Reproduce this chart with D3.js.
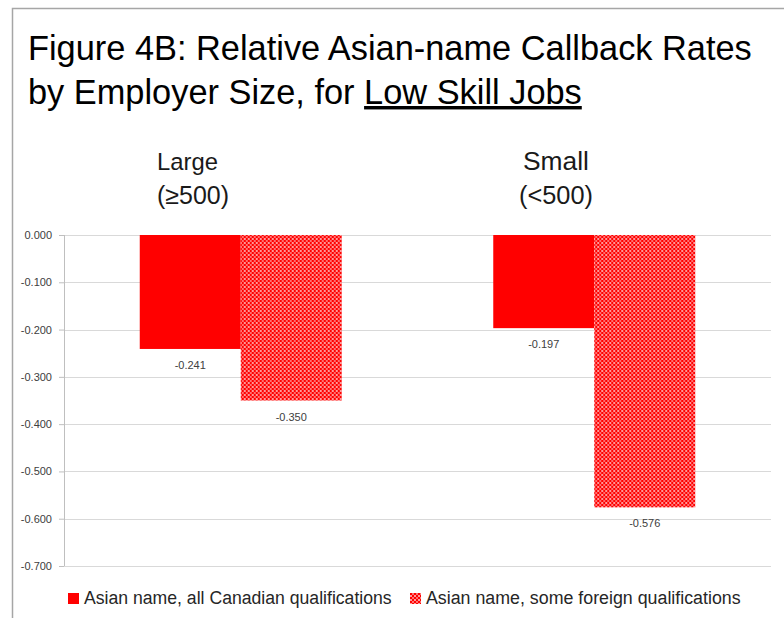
<!DOCTYPE html>
<html>
<head>
<meta charset="utf-8">
<script src="https://cdn.jsdelivr.net/npm/d3@7"></script>
<style>
  body { margin: 0; background: #fff; }
  svg { display: block; font-family: "Liberation Sans", Arial, sans-serif; }
</style>
</head>
<body>
<svg id="chart" width="784" height="618"></svg>
<script>
// data
const categories = ['Large', 'Small']
const categoryLabels = [['Large', '(\u2265500)'], ['Small', '(<500)']]
const seriesNames = ['Asian name, all Canadian qualifications', 'Asian name, some foreign qualifications']
const canadianQual = [-0.241, -0.197]
const foreignQual = [-0.350, -0.576]
const yTicks = [0, -0.1, -0.2, -0.3, -0.4, -0.5, -0.6, -0.7]

const svg = d3.select('#chart')

// plain hyphen minus, like the original
const fmt = d3.formatLocale({ decimal: '.', thousands: ',', grouping: [3], currency: ['', ''], minus: '-' }).format('.3f')

// shrink/grow a text so it takes the given width
function fitWidth(sel, w) {
  const len = sel.node().getComputedTextLength()
  const fs = parseFloat(sel.attr('font-size'))
  sel.attr('font-size', fs * w / len)
}

/**
 * @Frame
 */
svg.append('rect')
  .attr('x', 12.5).attr('y', 8.5)
  .attr('width', 800).attr('height', 700)
  .attr('fill', 'none')
  .attr('stroke', '#a6a6a6')
  .attr('stroke-width', 1.5)

// checker pattern for second series
const defs = svg.append('defs')
const pat = defs.append('pattern')
  .attr('id', 'checker')
  .attr('patternUnits', 'userSpaceOnUse')
  .attr('width', 4).attr('height', 4)
pat.append('rect').attr('width', 4).attr('height', 4).attr('fill', '#fff')
pat.append('rect').attr('x', 0).attr('y', 0).attr('width', 2).attr('height', 2).attr('fill', '#ff0000')
pat.append('rect').attr('x', 2).attr('y', 2).attr('width', 2).attr('height', 2).attr('fill', '#ff0000')
pat.append('rect').attr('x', 2).attr('y', 0).attr('width', 2).attr('height', 2).attr('fill', '#ff7070')
pat.append('rect').attr('x', 0).attr('y', 2).attr('width', 2).attr('height', 2).attr('fill', '#ff9a9a')

const fills = ['#ff0000', 'url(#checker)']

/**
 * @Title
 */
const t1 = svg.append('text')
  .attr('x', 28).attr('y', 60)
  .attr('font-size', 32).attr('fill', '#000')
  .text('Figure 4B: Relative Asian-name Callback Rates')
fitWidth(t1, 724)

const t2 = svg.append('text')
  .attr('x', 28).attr('y', 104)
  .attr('font-size', 32).attr('fill', '#000')
t2.append('tspan').text('by Employer Size, for ')
t2.append('tspan').attr('text-decoration', 'underline').text('Low Skill Jobs')
fitWidth(t2, 554)

/**
 * @Scales
 */
const plotLeft = 64, plotRight = 771
const y = d3.scaleLinear().domain([-0.7, 0]).range([566, 235])
const x0 = d3.scaleBand().domain(categories).range([plotLeft, plotRight])
  .paddingInner(0.4286).paddingOuter(0.2143)
const x1 = d3.scaleBand().domain([0, 1]).range([0, x0.bandwidth()])

/**
 * @Grid + axis
 */
const yAxis = svg.append('g')
  .attr('transform', `translate(${plotLeft},0)`)
  .call(d3.axisLeft(y).tickValues(yTicks).tickFormat(fmt)
    .tickSize(5).tickPadding(7))
yAxis.select('.domain').remove()
yAxis.selectAll('.tick line').attr('stroke', '#bfbfbf')
yAxis.selectAll('.tick text')
  .attr('fill', '#404040')
  .attr('font-size', 11)
  .attr('font-family', '"Liberation Sans", Arial, sans-serif')

svg.append('g')
  .selectAll('line')
  .data(yTicks)
  .enter()
  .append('line')
  .attr('x1', plotLeft).attr('x2', plotRight)
  .attr('y1', d => Math.round(y(d)) + 0.5)
  .attr('y2', d => Math.round(y(d)) + 0.5)
  .attr('stroke', '#d9d9d9')

svg.append('line')
  .attr('x1', plotLeft + 0.5).attr('x2', plotLeft + 0.5)
  .attr('y1', y(0)).attr('y2', y(-0.7))
  .attr('stroke', '#bfbfbf')

/**
 * @Bars
 */
const rows = categories.map((c, i) => ({ cat: c, vals: [canadianQual[i], foreignQual[i]] }))

const groups = svg.append('g')
  .selectAll('g')
  .data(rows)
  .enter()
  .append('g')
  .attr('transform', d => `translate(${x0(d.cat)},0)`)

groups.selectAll('rect')
  .data(d => d.vals.map((v, i) => ({ v, i })))
  .enter()
  .append('rect')
  .attr('x', d => x1(d.i))
  .attr('y', y(0))
  .attr('width', x1.bandwidth())
  .attr('height', d => y(d.v) - y(0))
  .attr('fill', d => fills[d.i])

groups.selectAll('text')
  .data(d => d.vals.map((v, i) => ({ v, i })))
  .enter()
  .append('text')
  .attr('x', d => x1(d.i) + x1.bandwidth() / 2)
  .attr('y', d => y(d.v) + 20)
  .attr('text-anchor', 'middle')
  .attr('font-size', 11)
  .attr('fill', '#404040')
  .text(d => fmt(d.v))

/**
 * @Category labels (sit above the bars)
 */
const catPos = [{ x: 157, widths: [61, 72] }, { x: 556, widths: [66, 74] }]
categoryLabels.forEach((lines, i) => {
  lines.forEach((s, j) => {
    const t = svg.append('text')
      .attr('x', catPos[i].x)
      .attr('y', 170 + j * 34)
      .attr('text-anchor', i === 0 ? 'start' : 'middle')
      .attr('font-size', 23)
      .attr('fill', '#1a1a1a')
      .text(s)
    fitWidth(t, catPos[i].widths[j])
  })
})

/**
 * @Legend
 */
const legendX = [68, 410]
const legendW = [308, 315]
seriesNames.forEach((name, i) => {
  const g = svg.append('g').attr('transform', `translate(${legendX[i]},593)`)
  g.append('rect')
    .attr('width', 11).attr('height', 11)
    .attr('fill', fills[i])
  const t = g.append('text')
    .attr('x', 16).attr('y', 11)
    .attr('font-size', 15)
    .attr('fill', '#262626')
    .text(name)
  fitWidth(t, legendW[i])
})
</script>
</body>
</html>
